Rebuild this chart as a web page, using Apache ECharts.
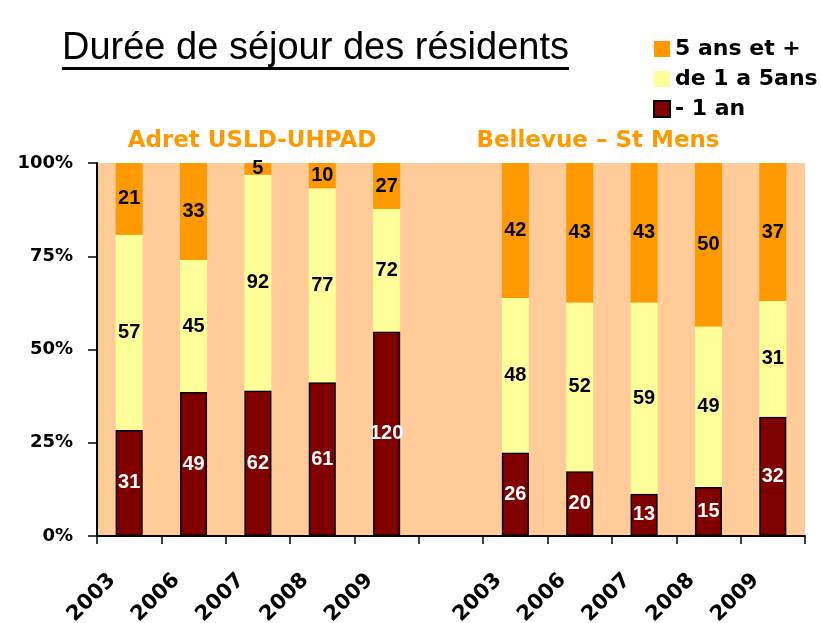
<!DOCTYPE html>
<html>
<head>
<meta charset="utf-8">
<script src="https://cdn.jsdelivr.net/npm/echarts@6/dist/echarts.min.js"></script>
<style>
  html, body { margin: 0; padding: 0; background: #ffffff; }
  #chart { width: 821px; height: 623px; }
</style>
</head>
<body>
<div id="chart"></div>
<script>
// Years per establishment; the blank entry separates the two groups
const categories = ['2003', '2006', '2007', '2008', '2009', '', '2003', '2006', '2007', '2008', '2009'];

// Number of residents by length of stay
const lessThan1 = [31, 49, 62, 61, 120, null, 26, 20, 13, 15, 32];
const from1To5  = [57, 45, 92, 77, 72, null, 48, 52, 59, 49, 31];
const over5     = [21, 33, 5, 10, 27, null, 42, 43, 43, 50, 37];

const seriesNames = ['- 1 an', 'de 1 a 5ans', '5 ans et +'];
const yTicks = [0, 25, 50, 75, 100];
const groupNames = ['Adret USLD-UHPAD', 'Bellevue – St Mens'];
const titleText = 'Durée de séjour des résidents';

// Share of each column (percent of that year's total)
const totals = categories.map((_, i) =>
  (lessThan1[i] || 0) + (from1To5[i] || 0) + (over5[i] || 0));
const share = arr => arr.map((v, i) => v == null ? null : v / totals[i] * 100);

const chart = echarts.init(document.getElementById('chart'), null, { renderer: 'canvas' });

const boldSans = '"Liberation Sans", Arial, sans-serif';
const wideSans = '"DejaVu Sans", sans-serif';
const titleFont = '38px "Liberation Sans"';

// measure the title so the underline spans it exactly
const ctx = document.createElement('canvas').getContext('2d');
ctx.font = titleFont;
const titleWidth = ctx.measureText(titleText).width;

function barSeries(name, counts, color, labelColor, border) {
  return {
    name: name,
    type: 'bar',
    stack: 'total',
    barWidth: '42%',
    data: share(counts),
    itemStyle: {
      color: color,
      borderColor: border ? '#000000' : color,
      borderWidth: border ? 1.5 : 0
    },
    label: {
      show: true,
      position: 'inside',
      color: labelColor,
      fontFamily: boldSans,
      fontWeight: 'bold',
      fontSize: 20,
      formatter: p => counts[p.dataIndex]
    },
    emphasis: { disabled: true }
  };
}

chart.setOption({
  animation: false,
  backgroundColor: '#ffffff',
  grid: {
    left: 97, right: 16, top: 163, bottom: 87,
    outerBoundsMode: 'none',
    containLabel: false,
    show: true, backgroundColor: '#FFCC99', borderWidth: 0
  },
  legend: {
    data: [seriesNames[2], seriesNames[1], seriesNames[0]],
    orient: 'vertical',
    left: 648,
    top: 33,
    icon: 'rect',
    itemWidth: 16,
    itemHeight: 16,
    itemGap: 8,
    selectedMode: false,
    textStyle: {
      fontFamily: wideSans,
      fontWeight: 'bold',
      fontSize: 22,
      lineHeight: 22,
      color: '#000000'
    }
  },
  xAxis: {
    type: 'category',
    data: categories,
    axisLine: { show: true, lineStyle: { color: '#000000', width: 2 } },
    axisTick: { show: true, length: 8, lineStyle: { color: '#000000', width: 1.5 } },
    axisLabel: {
      interval: 0,
      rotate: 45,
      margin: 24,
      padding: [0, 24, 0, 0],
      color: '#000000',
      fontFamily: wideSans,
      fontWeight: 'bold',
      fontSize: 21
    },
    splitLine: { show: false }
  },
  yAxis: {
    type: 'value',
    min: yTicks[0],
    max: yTicks[yTicks.length - 1],
    interval: yTicks[1] - yTicks[0],
    axisLine: { show: true, lineStyle: { color: '#000000', width: 2 } },
    axisTick: { show: true, length: 9, lineStyle: { color: '#000000', width: 1.5 } },
    axisLabel: {
      formatter: '{value}%',
      margin: 24,
      color: '#000000',
      fontFamily: wideSans,
      fontWeight: 'bold',
      fontSize: 18
    },
    splitLine: { show: false }
  },
  series: [
    barSeries(seriesNames[0], lessThan1, '#800000', '#ffffff', true),
    barSeries(seriesNames[1], from1To5, '#FFFF99', '#000000', false),
    barSeries(seriesNames[2], over5, '#FF9900', '#000000', false)
  ],
  graphic: [
    {
      type: 'text',
      left: 62,
      top: 30,
      style: {
        text: titleText,
        font: titleFont,
        fill: '#000000'
      }
    },
    {
      type: 'rect',
      shape: { x: 62, y: 67, width: titleWidth, height: 3 },
      style: { fill: '#000000' }
    },
    {
      type: 'text',
      x: 252, y: 141,
      style: {
        text: groupNames[0],
        align: 'center', verticalAlign: 'middle',
        font: 'bold 23px "DejaVu Sans"',
        fill: '#FF9900'
      }
    },
    {
      type: 'text',
      x: 598, y: 141,
      style: {
        text: groupNames[1],
        align: 'center', verticalAlign: 'middle',
        font: 'bold 23px "DejaVu Sans"',
        fill: '#FF9900'
      }
    }
  ]
});
</script>
</body>
</html>
